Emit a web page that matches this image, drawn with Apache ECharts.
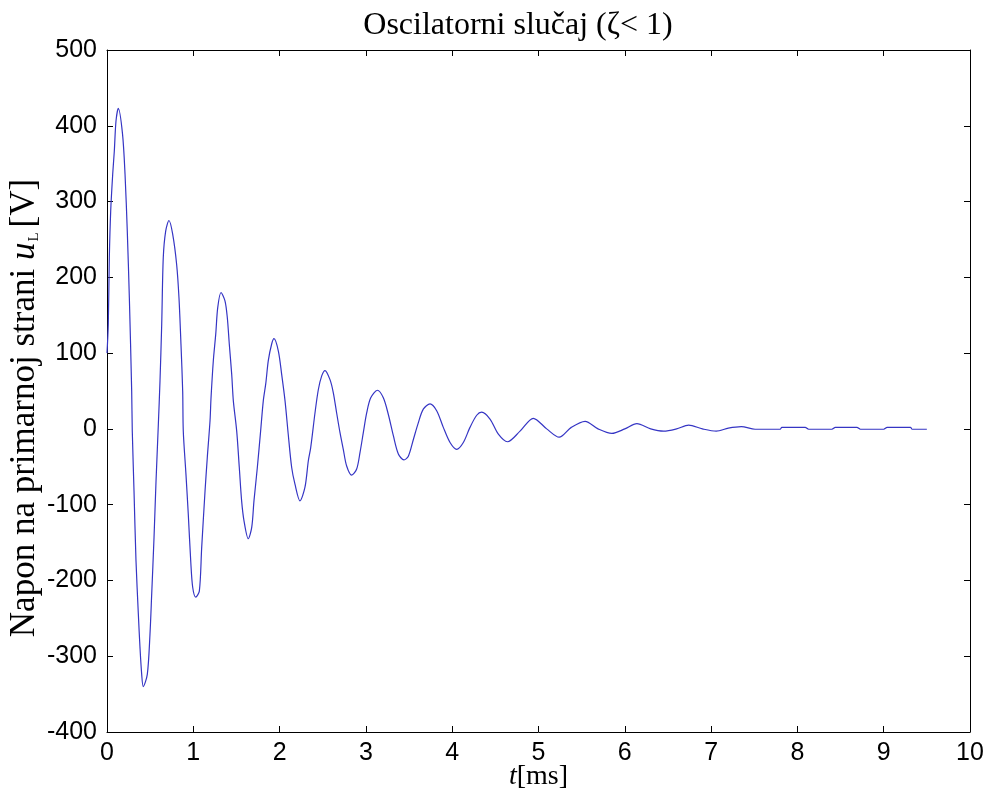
<!DOCTYPE html>
<html>
<head>
<meta charset="utf-8">
<script src="https://cdn.jsdelivr.net/npm/echarts@6/dist/echarts.min.js"></script>
<style>
html,body{margin:0;padding:0;background:#fff;}
#chart{width:994px;height:795px;}
</style>
</head>
<body>
<div id="chart"></div>
<script>
// vrijeme [ms] i napon u_L [V], ocitano sa slike
var tMs=[0,0.015,0.027,0.043,0.066,0.085,0.104,0.131,0.18,0.209,0.235,0.259,0.286,0.293,0.313,0.336,0.363,0.382,0.402,0.42,
  0.467,0.498,0.518,0.545,0.568,0.595,0.614,0.634,0.652,0.68,0.718,0.761,0.807,0.834,0.857,0.877,0.884,0.915,0.942,0.97,
  0.993,1.028,1.07,1.097,1.136,1.162,1.194,1.205,1.232,1.26,1.283,1.321,1.367,1.394,1.417,1.445,1.464,1.503,1.533,1.56,
  1.587,1.637,1.677,1.703,1.742,1.78,1.811,1.84,1.869,1.908,1.935,1.985,2.024,2.063,2.1,2.14,2.178,2.236,2.294,2.333,
  2.36,2.41,2.449,2.488,2.526,2.584,2.622,2.661,2.7,2.738,2.777,2.835,2.893,2.932,2.97,3.009,3.056,3.133,3.202,3.26,
  3.318,3.376,3.441,3.492,3.55,3.607,3.665,3.743,3.82,3.897,3.975,4.052,4.129,4.206,4.284,4.342,4.438,4.535,4.64,4.786,
  4.94,5.095,5.24,5.38,5.54,5.69,5.85,6.0,6.14,6.3,6.45,6.6,6.74,6.9,7.06,7.2,7.35,7.51,7.8,7.82,
  8.09,8.13,8.4,8.44,8.69,8.73,9.0,9.04,9.31,9.33,9.5];
var uL=[100,138,226,288,336,367,406,423,389,336,261,173,50,-3,-82,-174,-244,-288,-324,-340,
  -324,-271,-218,-143,-69,6,63,138,226,261,275,257,217,173,112,50,-3,-60,-113,-174,
  -209,-222,-214,-157,-82,-38,11,40,90,125,160,180,169,147,112,72,37,-3,-51,-95,
  -121,-145,-130,-95,-51,-3,37,60,90,112,119,103,72,37,-7,-51,-73,-95,-77,-42,
  -25,21,52,70,77,65,48,21,-5,-27,-49,-61,-53,-31,-5,21,41,51,41,19,
  -9,-33,-41,-36,-14,8,26,33,24,2,-18,-27,-18,2,18,22,13,-7,-17,-3,
  14,0,-11,2,10,0,-6,0,7,0,-3,0,5,0,-3,1,3,-0.5,-0.5,2,
  2,-0.5,-0.5,2,2,-0.5,-0.5,2,2,-0.5,-0.5];
var xTicks=[0,10,1];
var yTicks=[-400,500,100];

var chart=echarts.init(document.getElementById('chart'));
var pts=tMs.map(function(t,i){return [t,uL[i]];});

var tickFont={fontFamily:'Liberation Sans, Arial',fontSize:25,color:'#000'};
var axLine={show:true,onZero:false,lineStyle:{color:'#000',width:1}};
var axTick={show:true,inside:true,length:6,lineStyle:{color:'#000'}};

var option={
  backgroundColor:'#fff',
  animation:false,
  title:{
    text:'Oscilatorni slučaj (ζ< 1)',
    left:513,
    textAlign:'center',
    top:5,
    textStyle:{fontFamily:'Liberation Serif, Times New Roman',fontSize:32,fontWeight:'normal',color:'#000'}
  },
  grid:{left:107,right:24,top:50,bottom:63,outerBoundsMode:'none',containLabel:false},
  xAxis:[{
    type:'value',min:xTicks[0],max:xTicks[1],interval:xTicks[2],
    axisLine:axLine,axisTick:axTick,splitLine:{show:false},
    axisLabel:Object.assign({margin:9},tickFont),
    name:'{i|t}{n|[ms]}',
    nameLocation:'middle',nameGap:31,nameMoveOverlap:false,
    nameTextStyle:{
      rich:{
        i:{fontFamily:'Liberation Serif',fontStyle:'italic',fontSize:28,color:'#000'},
        n:{fontFamily:'Liberation Serif',fontSize:28,color:'#000'}
      }
    }
  },{
    type:'value',position:'top',min:xTicks[0],max:xTicks[1],interval:xTicks[2],
    axisLine:axLine,axisTick:axTick,axisLabel:{show:false},splitLine:{show:false}
  }],
  yAxis:[{
    type:'value',min:yTicks[0],max:yTicks[1],interval:yTicks[2],
    axisLine:axLine,axisTick:axTick,splitLine:{show:false},
    axisLabel:Object.assign({margin:10},tickFont),
    name:'{n|Napon na primarnoj strani }{i|u}{s|L}{n|[V]}',
    nameLocation:'middle',nameGap:65,nameMoveOverlap:false,
    nameTextStyle:{
      padding:[0,34,0,0],
      rich:{
        n:{fontFamily:'Liberation Serif',fontSize:35,color:'#000'},
        i:{fontFamily:'Liberation Serif',fontStyle:'italic',fontSize:35,color:'#000'},
        s:{fontFamily:'Liberation Serif',fontSize:15,color:'#000',verticalAlign:'bottom',padding:[14,5,0,1]}
      }
    }
  },{
    type:'value',position:'right',min:yTicks[0],max:yTicks[1],interval:yTicks[2],
    axisLine:axLine,axisTick:axTick,axisLabel:{show:false},splitLine:{show:false}
  }],
  series:[{
    type:'line',
    data:pts,
    showSymbol:false,
    smooth:0.3,
    lineStyle:{color:'#3535c4',width:1.2}
  }]
};
chart.setOption(option);
</script>
</body>
</html>
